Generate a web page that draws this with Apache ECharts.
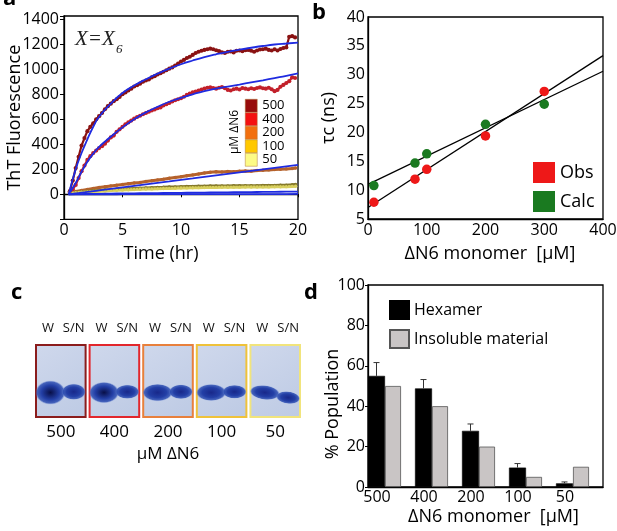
<!DOCTYPE html>
<html>
<head>
<meta charset="utf-8">
<script src="https://cdn.jsdelivr.net/npm/echarts@6.0.0/dist/echarts.min.js"></script>
<style>
html, body { margin: 0; padding: 0; background: #fff; }
#figure { width: 617px; height: 531px; }
</style>
</head>
<body>
<div id="figure"></div>
<script>
const fontFam = '"Open Sans", "DejaVu Sans", sans-serif';

// panel a: ThT fluorescence
const timeQuarter = [0.5, 0.75, 1, 1.25, 1.5, 1.75, 2, 2.25, 2.5, 2.75, 3, 3.25, 3.5, 3.75, 4, 4.25, 4.5, 4.75,
    5, 5.25, 5.5, 5.75, 6, 6.25, 6.5, 6.75, 7, 7.25, 7.5, 7.75, 8, 8.25, 8.5, 8.75, 9, 9.25, 9.5, 9.75,
    10, 10.25, 10.5, 10.75, 11, 11.25, 11.5, 11.75, 12, 12.25, 12.5, 12.75, 13, 13.25, 13.5, 13.75,
    14, 14.25, 14.5, 14.75, 15, 15.25, 15.5, 15.75, 16, 16.25, 16.5, 16.75, 17, 17.25, 17.5, 17.75,
    18, 18.25, 18.5, 18.75, 19, 19.25, 19.5, 19.75];
const tht500 = [25, 110, 210, 300, 390, 450, 505, 540, 568, 600, 625, 650, 680, 705, 725, 745, 760, 778,
    800, 815, 830, 845, 862, 872, 885, 900, 910, 918, 935, 945, 958, 968, 980, 992, 1005, 1015, 1030, 1045,
    1062, 1075, 1090, 1100, 1115, 1130, 1140, 1148, 1155, 1160, 1165, 1160, 1152, 1145, 1135, 1130,
    1140, 1142, 1135, 1148, 1150, 1145, 1152, 1155, 1148, 1140, 1150, 1158, 1160, 1165, 1155, 1150,
    1160, 1150, 1162, 1170, 1175, 1260, 1265, 1255];
const tht400 = [15, 40, 75, 130, 185, 230, 275, 305, 330, 350, 370, 385, 405, 430, 455, 470, 500, 520,
    540, 560, 575, 590, 605, 618, 628, 640, 650, 660, 670, 678, 688, 695, 710, 720, 730, 742, 752, 760,
    768, 780, 795, 805, 815, 822, 830, 838, 845, 852, 855, 850, 845, 852, 858, 848,
    835, 830, 840, 845, 838, 850, 845, 840, 848, 842, 850, 855, 848, 845, 852, 840,
    825, 835, 860, 875, 890, 905, 935, 930];
const timeHalf = [0.5, 1, 1.5, 2, 2.5, 3, 3.5, 4, 4.5, 5, 5.5, 6, 6.5, 7, 7.5, 8, 8.5, 9, 9.5, 10,
    10.5, 11, 11.5, 12, 12.5, 13, 13.5, 14, 14.5, 15, 15.5, 16, 16.5, 17, 17.5, 18, 18.5, 19, 19.5, 19.8];
const tht200 = [15, 22, 30, 38, 46, 54, 60, 67, 73, 78, 84, 90, 95, 102, 108, 115, 121, 128, 134, 140,
    148, 155, 162, 170, 176, 180, 178, 182, 180, 184, 186, 185, 190, 192, 195, 198, 200, 203, 206, 210];
const tht100 = [12, 16, 20, 24, 28, 31, 34, 37, 40, 42, 45, 47, 49, 51, 53, 55, 56, 58, 59, 61,
    62, 63, 64, 65, 66, 66, 67, 67, 68, 68, 68, 69, 69, 70, 70, 71, 72, 73, 76, 78];
const tht50 = [10, 13, 16, 19, 22, 25, 27, 30, 32, 34, 36, 38, 40, 42, 43, 45, 46, 47, 48, 50,
    51, 52, 53, 54, 55, 55, 56, 56, 57, 57, 58, 58, 58, 59, 59, 60, 60, 61, 63, 64];
const fitTime = [0.4, 1, 1.5, 2, 2.5, 3, 4, 5, 6, 7, 8, 9, 10, 11, 12, 13, 14, 15, 16, 17, 18, 19, 20];
const fit500 = [0, 200, 330, 440, 540, 620, 725, 810, 870, 920, 965, 1005, 1040, 1070, 1097, 1120, 1140, 1157, 1172, 1186, 1198, 1206, 1213];
const fit400 = [0, 90, 180, 260, 325, 380, 460, 535, 600, 655, 700, 740, 772, 800, 825, 845, 862, 878, 895, 912, 930, 948, 968];
const fit200 = [0, 7, 13, 19, 25, 31, 43, 55, 67, 79, 91, 103, 116, 128, 140, 152, 164, 176, 188, 200, 212, 224, 236];
const fit100 = [0, 1, 2, 3, 4, 4, 6, 7, 8, 9, 10, 11, 12, 13, 14, 15, 16, 17, 18, 19, 20, 21, 22];
const fit50 = [0, 0, 0, 0, 0, 0, 0, 1, 1, 1, 1, 1, 1, 1, 1, 2, 2, 2, 2, 2, 2, 2, 3];
const concLabels = ['500', '400', '200', '100', '50'];
const concColors = ['#970c0c', '#f41212', '#f2700f', '#ffc800', '#fdfb86'];
const dotColors = ['#8a1212', '#c2202a', '#b5622c', '#85792a', '#d8cf5e'];

// panel b: correlation time
const tauConc = [10, 80, 100, 200, 300];
const tauObs = [7.9, 11.9, 13.6, 19.4, 27.1];
const tauCalc = [10.8, 14.7, 16.3, 21.4, 24.9];
const fitConc = [0, 400];
const tauObsFit = [7.0, 33.3];
const tauCalcFit = [11.0, 30.6];

// panel c: gels, whole (W) and supernatant (S/N) lanes
const gelConc = ['500', '400', '200', '100', '50'];
const gelBorder = ['#8b1c1c', '#e2262c', '#e8803c', '#efc23a', '#f1e47c'];
const wholeBand = [1.0, 0.88, 0.72, 0.7, 0.6];
const supBand = [0.8, 0.7, 0.72, 0.68, 0.62];
const supShift = [0, 0, 0, 0, 0.08];

// panel d: populations
const popConc = ['500', '400', '200', '100', '50'];
const hexamer = [55, 48.8, 27.8, 9.6, 1.8];
const hexamerErr = [6.6, 4.4, 3.4, 2.0, 0.7];
const insoluble = [50, 40, 20, 5, 10];

const zip = (xs, ys) => xs.map((x, i) => [x, ys[i]]);
const txt = (size) => ({ color: '#000', fontSize: size, fontFamily: fontFam });
const blackLine = { show: true, lineStyle: { color: '#000', width: 1.3 } };

let chart = echarts.init(document.getElementById('figure'));

const thtSets = [
    [timeQuarter, tht500], [timeQuarter, tht400], [timeHalf, tht200], [timeHalf, tht100], [timeHalf, tht50]
];
const fitSets = [fit500, fit400, fit200, fit100, fit50];

let series = [];
thtSets.forEach(function (s, i) {
    series.push({
        name: concLabels[i], type: 'line', xAxisIndex: 0, yAxisIndex: 0,
        data: zip(s[0], s[1]), symbol: 'circle', symbolSize: i < 2 ? 4.2 : 3.4, showSymbol: true,
        lineStyle: { color: dotColors[i], width: i < 2 ? 2.2 : 3 },
        itemStyle: { color: dotColors[i], opacity: 1 }, z: 2
    });
});
fitSets.forEach(function (f, i) {
    series.push({
        name: 'fit' + concLabels[i], type: 'line', xAxisIndex: 0, yAxisIndex: 0,
        data: zip(fitTime, f), smooth: true, showSymbol: false,
        lineStyle: { color: '#1f2be0', width: 1.8 }, z: 3
    });
});

// panel b
series.push(
    { name: 'obsFit', type: 'line', xAxisIndex: 1, yAxisIndex: 1, data: zip(fitConc, tauObsFit),
        showSymbol: false, lineStyle: { color: '#000', width: 1.3 }, z: 2 },
    { name: 'calcFit', type: 'line', xAxisIndex: 1, yAxisIndex: 1, data: zip(fitConc, tauCalcFit),
        showSymbol: false, lineStyle: { color: '#000', width: 1.3 }, z: 2 },
    { name: 'Obs', type: 'scatter', xAxisIndex: 1, yAxisIndex: 1, data: zip(tauConc, tauObs),
        symbolSize: 9.5, itemStyle: { color: '#ee1818', opacity: 1 }, z: 3 },
    { name: 'Calc', type: 'scatter', xAxisIndex: 1, yAxisIndex: 1, data: zip(tauConc, tauCalc),
        symbolSize: 9.5, itemStyle: { color: '#1a7a20', opacity: 1 }, z: 3 }
);

// panel c
function bandShape(cx, cy, rx, ry, k, rot) {
    const core = k > 0.85 ? '#080f48' : '#18288a';
    return {
        type: 'circle', x: cx, y: cy, scaleX: rx / ry, rotation: rot,
        shape: { cx: 0, cy: 0, r: ry },
        style: {
            fill: new echarts.graphic.RadialGradient(0.5, 0.5, 0.5, [
                { offset: 0, color: core },
                { offset: 0.6, color: '#233fa6' },
                { offset: 0.88, color: 'rgba(45,78,178,0.85)' },
                { offset: 1, color: 'rgba(90,120,205,0.15)' }
            ])
        }
    };
}

function renderGel(params, api) {
    const i = api.value(0);
    const top = api.coord([i, 1]);
    const bottom = api.coord([i, 0]);
    const band = api.size([1, 0])[0];
    const w = band - 4;
    const h = bottom[1] - top[1];
    const x0 = top[0] - w / 2;
    const y0 = top[1];
    const wk = api.value(1), sk = api.value(2), sh = api.value(3);
    const rot = sh > 0 ? -0.12 : 0;
    const laneText = (label, x) => ({
        type: 'text', x: x, y: y0 - 17,
        style: { text: label, fontSize: 13, fontFamily: fontFam, fill: '#111', align: 'center', verticalAlign: 'middle' }
    });
    return {
        type: 'group',
        children: [
            { type: 'rect', shape: { x: x0, y: y0, width: w, height: h },
                style: {
                    fill: new echarts.graphic.LinearGradient(0, 0, 1, 1, [
                        { offset: 0, color: '#cfd8ec' }, { offset: 1, color: '#bdcae4' }
                    ]),
                    stroke: gelBorder[i], lineWidth: 2
                } },
            bandShape(x0 + 0.29 * w, y0 + 0.66 * h, 0.3 * w, 12 * wk, wk, rot),
            bandShape(x0 + 0.76 * w, y0 + (0.65 + sh) * h, 0.24 * w, 10 * sk, sk, rot),
            laneText('W', x0 + 0.24 * w),
            laneText('S/N', x0 + 0.76 * w)
        ]
    };
}

series.push({
    name: 'gels', type: 'custom', xAxisIndex: 2, yAxisIndex: 2, renderItem: renderGel,
    data: gelConc.map((c, i) => [i, wholeBand[i], supBand[i], supShift[i]])
});

// panel d
series.push(
    { name: 'Hexamer', type: 'bar', xAxisIndex: 3, yAxisIndex: 3, data: hexamer, barWidth: 17, barGap: '0%',
        itemStyle: { color: '#000', borderColor: '#000', borderWidth: 0.6 } },
    { name: 'Insoluble material', type: 'bar', xAxisIndex: 3, yAxisIndex: 3, data: insoluble, barWidth: 16, barGap: '0%',
        itemStyle: { color: '#c9c5c5', borderColor: '#555', borderWidth: 0.8 } },
    { name: 'spacer', type: 'bar', xAxisIndex: 3, yAxisIndex: 3, data: popConc.map(() => 0), barWidth: 14, barGap: '0%',
        itemStyle: { color: 'rgba(0,0,0,0)' }, silent: true },
    { name: 'hexErr', type: 'custom', xAxisIndex: 3, yAxisIndex: 3,
        data: hexamer.map((v, i) => [i, v, v + hexamerErr[i]]),
        renderItem: function (params, api) {
            const base = api.coord([api.value(0), api.value(1)]);
            const top = api.coord([api.value(0), api.value(2)]);
            const band = api.size([1, 0])[0];
            const cx = base[0] - band / 2 + 8.5;
            const st = { stroke: '#333', lineWidth: 1 };
            return { type: 'group', children: [
                { type: 'line', shape: { x1: cx, y1: base[1], x2: cx, y2: top[1] }, style: st },
                { type: 'line', shape: { x1: cx - 3, y1: top[1], x2: cx + 3, y2: top[1] }, style: st }
            ] };
        }, z: 3 }
);

const panelLetter = (ch, x, y) => ({
    type: 'text', left: x, top: y,
    style: { text: ch, fontSize: 22, fontWeight: 'bold', fontFamily: fontFam, fill: '#000' }
});

let option = {
    animation: false,
    backgroundColor: '#fff',
    grid: [
        { left: 64, top: 16, width: 234, height: 203.3, show: true, borderColor: '#000', borderWidth: 1.3, outerBoundsMode: 'none' },
        { left: 368, top: 17, width: 235, height: 202, show: true, borderColor: '#000', borderWidth: 1.3, outerBoundsMode: 'none' },
        { left: 34, top: 345, width: 268, height: 72, show: false, outerBoundsMode: 'none' },
        { left: 368, top: 285, width: 235, height: 202, show: true, borderColor: '#000', borderWidth: 1.3, outerBoundsMode: 'none' }
    ],
    xAxis: [
        { gridIndex: 0, type: 'value', min: 0, max: 20, interval: 5, axisLine: blackLine,
            axisTick: { show: true, length: 3, lineStyle: { color: '#000' } }, splitLine: { show: false },
            axisLabel: Object.assign(txt(16), { margin: 3 }),
            name: 'Time (hr)', nameLocation: 'middle', nameGap: 26, nameMoveOverlap: false,
            nameTextStyle: Object.assign(txt(18), { padding: [0, 40, 0, 0] }) },
        { gridIndex: 1, type: 'value', min: 0, max: 400, interval: 100, axisLine: blackLine,
            axisTick: { show: false }, splitLine: { show: false },
            axisLabel: Object.assign(txt(16), { margin: 3 }),
            name: 'ΔN6 monomer  [μM]', nameLocation: 'middle', nameGap: 26, nameMoveOverlap: false,
            nameTextStyle: Object.assign(txt(18), { padding: [0, 0, 0, 9] }) },
        { gridIndex: 2, type: 'category', data: gelConc, axisLine: { show: false }, axisTick: { show: false },
            axisLabel: Object.assign(txt(17), { margin: 7 }),
            name: 'μM ΔN6', nameLocation: 'middle', nameGap: 29, nameMoveOverlap: false, nameTextStyle: txt(17) },
        { gridIndex: 3, type: 'category', data: popConc, axisLine: blackLine, axisTick: { show: false },
            axisLabel: Object.assign(txt(16), { margin: 2, padding: [0, 29, 0, 0] }),
            name: 'ΔN6 monomer  [μM]', nameLocation: 'middle', nameGap: 21, nameMoveOverlap: false,
            nameTextStyle: Object.assign(txt(18), { padding: [0, 0, 0, 16] }) }
    ],
    yAxis: [
        { gridIndex: 0, type: 'value', min: -200, max: 1426, interval: 200, axisLine: blackLine,
            axisTick: { show: true, length: 4, lineStyle: { color: '#000' } }, splitLine: { show: false },
            axisLabel: Object.assign(txt(16), { margin: 5, formatter: (v) => (v >= 0 && v <= 1400) ? String(v) : '' }),
            name: 'ThT Fluorescence', nameLocation: 'middle', nameGap: 40, nameMoveOverlap: false, nameTextStyle: txt(18) },
        { gridIndex: 1, type: 'value', min: 5, max: 40, interval: 5, axisLine: blackLine,
            axisTick: { show: false }, splitLine: { show: false },
            axisLabel: Object.assign(txt(16), { margin: 3 }),
            name: 'τc (ns)', nameLocation: 'middle', nameGap: 30, nameMoveOverlap: false, nameTextStyle: txt(18) },
        { gridIndex: 2, type: 'value', min: 0, max: 1, show: false },
        { gridIndex: 3, type: 'value', min: 0, max: 100, interval: 20, axisLine: blackLine,
            axisTick: { show: true, length: 3, lineStyle: { color: '#000' } }, splitLine: { show: false },
            axisLabel: Object.assign(txt(16), { margin: 3 }),
            name: '% Population', nameLocation: 'middle', nameGap: 26, nameMoveOverlap: false,
            nameTextStyle: Object.assign(txt(18), { padding: [0, 36, 0, 0] }) }
    ],
    legend: [
        { selectedMode: false, orient: 'vertical', left: 245, top: 99, padding: 0, itemWidth: 12, itemHeight: 13, itemGap: 0,
            textStyle: txt(13),
            data: concLabels.map((c, i) => ({ name: c, icon: 'rect',
                itemStyle: { color: concColors[i], borderColor: '#b07a3a', borderWidth: 0.5, opacity: 1 } })) },
        { selectedMode: false, orient: 'vertical', left: 533, top: 162, padding: 0, itemWidth: 22, itemHeight: 21, itemGap: 8,
            textStyle: txt(18), data: [{ name: 'Obs', icon: 'rect' }, { name: 'Calc', icon: 'rect' }] },
        { selectedMode: false, orient: 'vertical', left: 389, top: 300, padding: 0, itemWidth: 19, itemHeight: 18, itemGap: 9,
            textStyle: txt(16), data: [{ name: 'Hexamer', icon: 'rect' }, { name: 'Insoluble material', icon: 'rect' }] }
    ],
    graphic: [
        panelLetter('a', 3, -12),
        panelLetter('b', 312, 2),
        panelLetter('c', 11, 282),
        panelLetter('d', 304, 282),
        { type: 'text', left: 75, top: 29,
            style: { text: 'X=X', fontSize: 21, fontStyle: 'italic', fontFamily: '"Liberation Serif", serif', fill: '#222' } },
        { type: 'text', left: 116, top: 43,
            style: { text: '6', fontSize: 13, fontStyle: 'italic', fontFamily: '"Liberation Serif", serif', fill: '#222' } },
        { type: 'text', x: 235, y: 132, rotation: Math.PI / 2,
            style: { text: 'μM ΔN6', fontSize: 12, fontFamily: fontFam, fill: '#000', align: 'center', verticalAlign: 'middle' } }
    ],
    series: series
};

chart.setOption(option);
</script>
</body>
</html>
